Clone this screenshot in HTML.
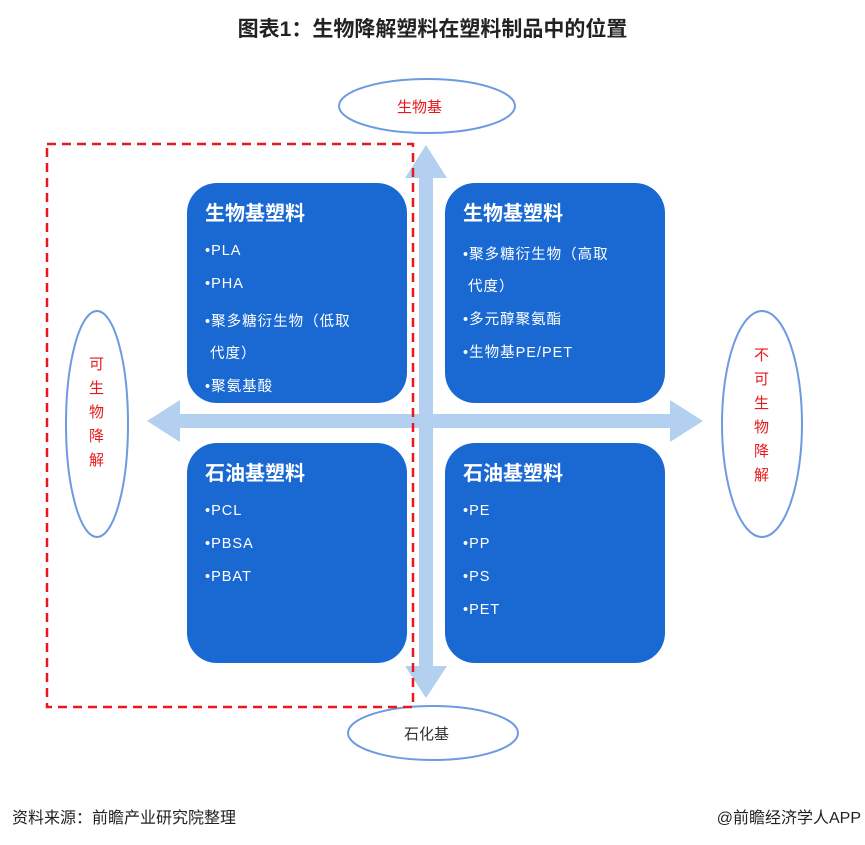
<!DOCTYPE html>
<html><head><meta charset="utf-8"><style>
body{margin:0;background:#fff;width:865px;height:845px;position:relative;overflow:hidden;font-family:"Liberation Sans","Noto Sans CJK SC",sans-serif}
.t{position:absolute;left:0;width:865px;top:13px;text-align:center;font-size:21px;font-weight:bold;color:#222}
.box{position:absolute;width:220px;height:220px;background:#1a69d2;border-radius:30px;color:#fff}
.box h3{margin:0;position:absolute;left:18px;top:14px;font-size:20px;font-weight:bold}
.box div{position:absolute;left:18px;font-size:14.5px;letter-spacing:1px}
.foot{position:absolute;top:804px;font-size:16px;color:#222}
</style></head><body>
<div class="t">图表1：生物降解塑料在塑料制品中的位置</div>
<svg width="865" height="845" style="position:absolute;left:0;top:0">
<polygon points="426,145 447,178 433,178 433,666 447,666 426,698 405,666 419,666 419,178 405,178" fill="#b4d0f0"/>
<polygon points="147,421 180,400 180,414 670,414 670,400 703,421 670,442 670,428 180,428 180,442" fill="#b4d0f0"/>
<ellipse cx="427" cy="106" rx="88" ry="27" fill="#fff" stroke="#6d9ae0" stroke-width="2"/>
<ellipse cx="433" cy="733" rx="85" ry="27" fill="#fff" stroke="#6d9ae0" stroke-width="2"/>
<ellipse cx="97" cy="424" rx="31" ry="113" fill="#fff" stroke="#6d9ae0" stroke-width="2"/>
<ellipse cx="762" cy="424" rx="40" ry="113" fill="#fff" stroke="#6d9ae0" stroke-width="2"/>
</svg>
<div class="box" style="left:187px;top:183px"><h3>生物基塑料</h3>
<div style="top:60px">•PLA</div><div style="top:93px">•PHA</div><div style="top:127px">•聚多糖衍生物（低取</div><div style="top:159px">&nbsp;代度）</div><div style="top:192px">•聚氨基酸</div></div>
<div class="box" style="left:445px;top:183px"><h3>生物基塑料</h3>
<div style="top:60px">•聚多糖衍生物（高取</div><div style="top:92px">&nbsp;代度）</div><div style="top:125px">•多元醇聚氨酯</div><div style="top:158px">•生物基PE/PET</div></div>
<div class="box" style="left:187px;top:443px"><h3>石油基塑料</h3>
<div style="top:60px">•PCL</div><div style="top:93px">•PBSA</div><div style="top:126px">•PBAT</div></div>
<div class="box" style="left:445px;top:443px"><h3>石油基塑料</h3>
<div style="top:60px">•PE</div><div style="top:93px">•PP</div><div style="top:126px">•PS</div><div style="top:159px">•PET</div></div>
<svg width="865" height="845" style="position:absolute;left:0;top:0">
<rect x="47" y="144" width="366" height="563" fill="none" stroke="#e8181c" stroke-width="2.5" stroke-dasharray="9,6"/>
</svg>
<div style="position:absolute;left:397px;top:96px;font-size:15px;color:#e8181c">生物基</div>
<div style="position:absolute;left:404px;top:723px;font-size:15px;color:#333">石化基</div>
<div style="position:absolute;left:89px;top:353px;width:16px;font-size:15px;line-height:24px;color:#e8181c">可生物降解</div>
<div style="position:absolute;left:754px;top:344px;width:16px;font-size:15px;line-height:24px;color:#e8181c">不可生物降解</div>
<div class="foot" style="left:12px">资料来源：前瞻产业研究院整理</div>
<div class="foot" style="right:4px">@前瞻经济学人APP</div>
</body></html>
